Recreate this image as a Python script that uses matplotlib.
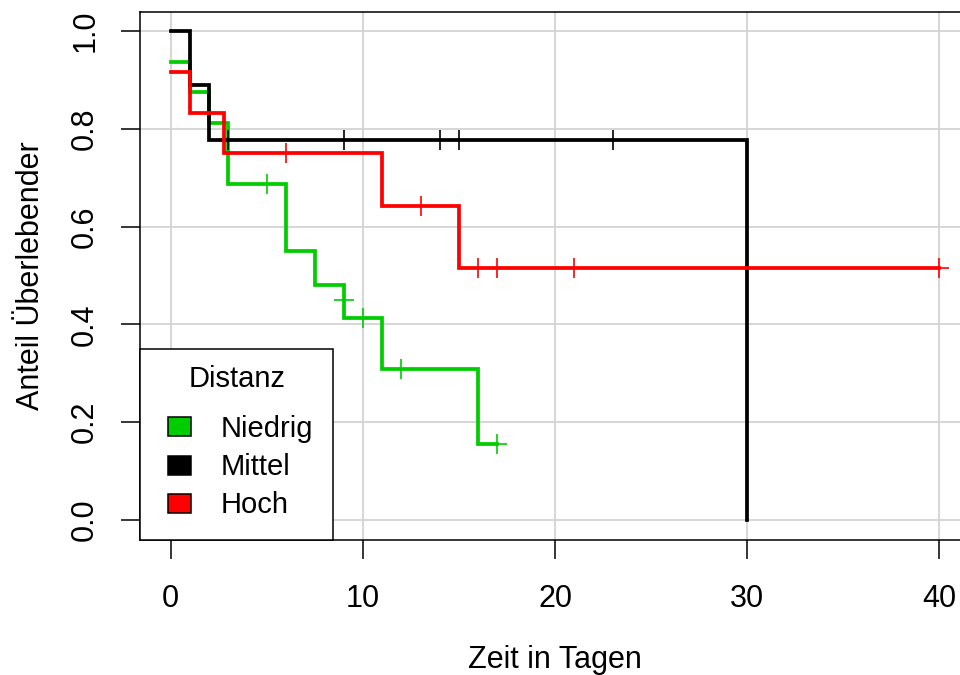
import matplotlib
matplotlib.use("Agg")
import matplotlib.pyplot as plt
from matplotlib.patches import Patch, Rectangle
from matplotlib.legend_handler import HandlerPatch

plt.rcParams['font.family'] = ['Liberation Sans', 'DejaVu Sans']

# Niedrig (green)
t_nied = [0, 1, 2, 3, 6, 7.5, 9, 11, 16, 17]
s_nied = [0.9375, 0.875, 0.8125, 0.6875, 0.55, 0.48125, 0.4125, 0.309, 0.155, 0.155]
c_nied_t = [5, 9, 10, 12, 17]
c_nied_s = [0.6875, 0.449, 0.4125, 0.309, 0.155]

# Mittel (black)
t_mitt = [0, 1, 2, 30]
s_mitt = [1.0, 0.8889, 0.7778, 0.0]
c_mitt_t = [3, 9, 14, 15, 23]
c_mitt_s = [0.7778, 0.7778, 0.7778, 0.7778, 0.7778]

# Hoch (red)
t_hoch = [0, 1, 2.75, 11, 15, 40]
s_hoch = [0.9167, 0.8333, 0.75, 0.643, 0.5145, 0.5145]
c_hoch_t = [6, 13, 16, 17, 21, 40]
c_hoch_s = [0.75, 0.643, 0.5145, 0.5145, 0.5145, 0.5145]

labels = ["Niedrig", "Mittel", "Hoch"]
colors = ["#00CD00", "#000000", "#FF0000"]

xticks = [0, 10, 20, 30, 40]
yticks = [0.0, 0.2, 0.4, 0.6, 0.8, 1.0]

fig = plt.figure(figsize=(9.6, 6.75), dpi=100)
W, H = 960, 675
left, right, top, bottom = 140, 970, 11.5, 539.5
ax = fig.add_axes([left / W, 1 - bottom / H, (right - left) / W, (bottom - top) / H])

ax.set_xlim(-1.6, 41.6)
ax.set_ylim(-0.04, 1.04)
ax.set_xticks(xticks)
ax.set_yticks(yticks)
ax.set_xticklabels([str(v) for v in xticks])
ax.set_yticklabels([f"{v:.1f}" for v in yticks], rotation=90, va='center')
ax.grid(True, color='#D3D3D3', lw=1.3)
ax.set_axisbelow(True)

series = [
    (t_nied, s_nied, c_nied_t, c_nied_s),
    (t_mitt, s_mitt, c_mitt_t, c_mitt_s),
    (t_hoch, s_hoch, c_hoch_t, c_hoch_s),
]
for (t, s, ct, cs), col in zip(series, colors):
    ax.step(t, s, where='post', color=col, lw=2.7, solid_joinstyle='miter', zorder=3)
    ax.plot(ct, cs, linestyle='none', marker='+', ms=14, mew=1.2, color=col, zorder=3)

for sp in ax.spines.values():
    sp.set_linewidth(1.1)
    sp.set_color('black')

ax.tick_params(axis='both', labelsize=22, length=13.7, width=1.1, color='black')
ax.tick_params(axis='y', pad=15)
ax.tick_params(axis='x', pad=18.5)

ax.set_xlabel("Zeit in Tagen", fontsize=22, labelpad=22)
ax.set_ylabel("Anteil Überlebender", fontsize=22, labelpad=17.5)


def box_patch(legend, orig_handle, xdescent, ydescent, width, height, fontsize):
    bw = 16.6  # points
    bh = 13.7
    return Rectangle((-xdescent + width - bw, -ydescent + (height - bh) / 2), bw, bh)


handles = [Patch(facecolor=c, edgecolor='black', lw=1.1) for c in colors]
leg = ax.legend(handles, labels, title="Distanz", loc='lower left',
                bbox_to_anchor=(0, 0), borderaxespad=0, fontsize=21,
                title_fontsize=21, frameon=True, fancybox=False,
                handlelength=1.06, handleheight=0.65, handletextpad=1.03,
                labelspacing=0.35, borderpad=0.548,
                handler_map={Patch: HandlerPatch(patch_func=box_patch)})
leg.get_frame().set_edgecolor('black')
leg.get_frame().set_linewidth(1.1)
leg.get_frame().set_alpha(1)
leg._legend_box.sep = 13.0
leg._legend_handle_box.pad = 2.9

fig.savefig("out.png", dpi=100)
